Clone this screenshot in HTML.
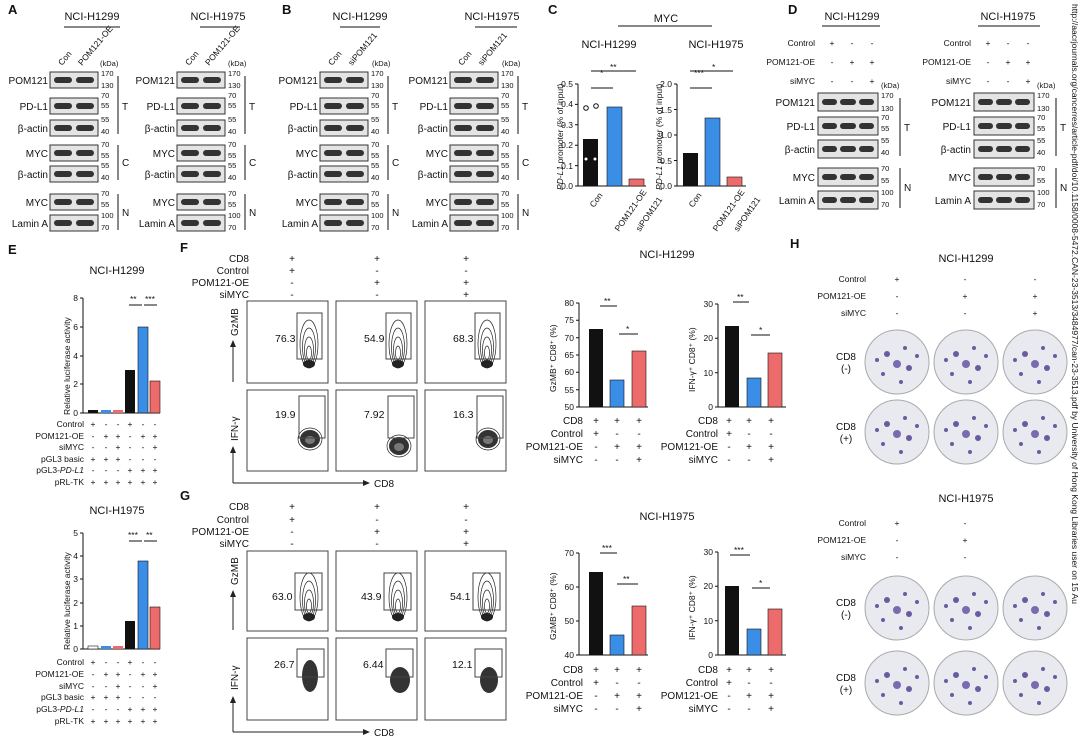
<!DOCTYPE html>
<html><head><meta charset="utf-8"><style>
body{margin:0;background:#fff}
svg{display:block;font-family:"Liberation Sans",Arial,sans-serif}
.t{font-size:10px;fill:#111}
.f{font-size:10.5px;fill:#111}
.s{font-size:8.5px;fill:#111}
.k{font-size:7.5px;fill:#111}
.L{font-size:13px;font-weight:bold;fill:#111}
.h{font-size:11px;fill:#111}
.bl{fill:#e4e4e4;stroke:#333;stroke-width:1}
.bd{fill:#333}
.ax{stroke:#111;stroke-width:1;fill:none}
.fl{fill:#fff;stroke:#444;stroke-width:1}
.ct{fill:none;stroke:#222;stroke-width:0.7}
.dish{fill:#e9e9f0;stroke:#aaa;stroke-width:1}
.B{fill:#3b8ee6;stroke:#111;stroke-width:.6}
.R{fill:#ee6b6b;stroke:#111;stroke-width:.6}
</style></head><body>
<svg width="1080" height="754" viewBox="0 0 1080 754">
<rect width="1080" height="754" fill="#fff"/>
<defs>
<g id="b48">
<rect class="bl" x="0" y="0" width="48" height="16"/><rect class="bd" x="4" y="5" width="18" height="6" rx="3"/><rect class="bd" x="26" y="5" width="18" height="6" rx="3"/>
</g>
<g id="cv">
<ellipse class="ct" cx="0" cy="0" rx="9" ry="24"/><ellipse class="ct" cx="0" cy="3" rx="6.5" ry="19"/><ellipse class="ct" cx="0" cy="6" rx="4.5" ry="13"/><ellipse class="ct" cx="0" cy="9" rx="2.5" ry="7"/><ellipse cx="0" cy="20" rx="6" ry="4" fill="#222"/>
</g>
<g id="cb">
<ellipse cx="0" cy="0" rx="10" ry="9" fill="#333"/><ellipse class="ct" cx="0" cy="0" rx="12" ry="11"/><ellipse cx="0" cy="1" rx="5" ry="4" fill="#777"/>
</g>
<g id="dish">
<circle class="dish" cx="0" cy="0" r="32"/>
<circle cx="-10" cy="-8" r="3" fill="#6a5aa0"/><circle cx="8" cy="-14" r="2" fill="#6a5aa0"/><circle cx="12" cy="6" r="3" fill="#6a5aa0"/><circle cx="-14" cy="12" r="2" fill="#6a5aa0"/><circle cx="0" cy="2" r="4" fill="#7a6ab0"/><circle cx="-20" cy="-2" r="2" fill="#6a5aa0"/><circle cx="20" cy="-6" r="2" fill="#6a5aa0"/><circle cx="4" cy="20" r="2" fill="#6a5aa0"/>
</g>
<g id="col">
<use href="#b48" x="0" y="72"/><use href="#b48" x="0" y="98"/><use href="#b48" x="0" y="120"/><use href="#b48" x="0" y="145"/><use href="#b48" x="0" y="166"/><use href="#b48" x="0" y="194"/><use href="#b48" x="0" y="215"/>
<g class="k"><text x="51" y="76">170</text><text x="51" y="88">130</text><text x="51" y="98">70</text><text x="51" y="108">55</text><text x="51" y="122">55</text><text x="51" y="134">40</text><text x="51" y="147">70</text><text x="51" y="158">55</text><text x="51" y="168">55</text><text x="51" y="180">40</text><text x="51" y="196">70</text><text x="51" y="207">55</text><text x="51" y="218">100</text><text x="51" y="230">70</text></g>
<g class="ax"><line x1="68" y1="76" x2="68" y2="134"/><line x1="68" y1="145" x2="68" y2="180"/><line x1="68" y1="194" x2="68" y2="230"/></g>
<g class="t"><text x="72" y="110">T</text><text x="72" y="166">C</text><text x="72" y="216">N</text></g>
</g>
<g id="b60">
<rect class="bl" x="0" y="0" width="60" height="18"/><rect class="bd" x="4" y="6" width="15" height="6" rx="3"/><rect class="bd" x="22" y="6" width="16" height="6" rx="3"/><rect class="bd" x="41" y="6" width="15" height="6" rx="3"/>
</g>
<g id="dcol">
<use href="#b60" x="0" y="93"/><use href="#b60" x="0" y="117"/><use href="#b60" x="0" y="140"/><use href="#b60" x="0" y="168"/><use href="#b60" x="0" y="191"/>
<g class="k"><text x="63" y="98">170</text><text x="63" y="111">130</text><text x="63" y="120">70</text><text x="63" y="131">55</text><text x="63" y="143">55</text><text x="63" y="155">40</text><text x="63" y="171">70</text><text x="63" y="183">55</text><text x="63" y="195">100</text><text x="63" y="207">70</text><text x="63" y="88">(kDa)</text></g>
<g class="ax"><line x1="82" y1="98" x2="82" y2="156"/><line x1="82" y1="168" x2="82" y2="208"/></g>
<g class="t"><text x="86" y="131">T</text><text x="86" y="191">N</text></g>
</g>
</defs>

<!-- Panel A -->
<text class="L" x="8" y="14">A</text>
<text class="h" x="92" y="20" text-anchor="middle">NCI-H1299</text><text class="h" x="218" y="20" text-anchor="middle">NCI-H1975</text>
<line class="ax" x1="64" y1="27" x2="120" y2="27"/><line class="ax" x1="200" y1="27" x2="240" y2="27"/>
<text class="s" transform="translate(62,66) rotate(-50)">Con</text><text class="s" transform="translate(82,66) rotate(-50)">POM121-OE</text>
<text class="s" transform="translate(189,66) rotate(-50)">Con</text><text class="s" transform="translate(209,66) rotate(-50)">POM121-OE</text>
<text class="k" x="100" y="66">(kDa)</text><text class="k" x="228" y="66">(kDa)</text>
<use href="#col" x="50" y="0"/><use href="#col" x="177" y="0"/>
<g class="t" text-anchor="end">
<text x="48" y="84">POM121</text><text x="48" y="110">PD-L1</text><text x="48" y="132">β-actin</text><text x="48" y="157">MYC</text><text x="48" y="178">β-actin</text><text x="48" y="206">MYC</text><text x="48" y="227">Lamin A</text>
<text x="175" y="84">POM121</text><text x="175" y="110">PD-L1</text><text x="175" y="132">β-actin</text><text x="175" y="157">MYC</text><text x="175" y="178">β-actin</text><text x="175" y="206">MYC</text><text x="175" y="227">Lamin A</text>
</g>

<!-- Panel B -->
<text class="L" x="282" y="14">B</text>
<text class="h" x="360" y="20" text-anchor="middle">NCI-H1299</text><text class="h" x="492" y="20" text-anchor="middle">NCI-H1975</text>
<line class="ax" x1="340" y1="27" x2="380" y2="27"/><line class="ax" x1="475" y1="27" x2="517" y2="27"/>
<text class="s" transform="translate(332,66) rotate(-50)">Con</text><text class="s" transform="translate(352,66) rotate(-50)">siPOM121</text>
<text class="s" transform="translate(462,66) rotate(-50)">Con</text><text class="s" transform="translate(482,66) rotate(-50)">siPOM121</text>
<text class="k" x="372" y="66">(kDa)</text><text class="k" x="502" y="66">(kDa)</text>
<use href="#col" x="320" y="0"/><use href="#col" x="450" y="0"/>
<g class="t" text-anchor="end">
<text x="318" y="84">POM121</text><text x="318" y="110">PD-L1</text><text x="318" y="132">β-actin</text><text x="318" y="157">MYC</text><text x="318" y="178">β-actin</text><text x="318" y="206">MYC</text><text x="318" y="227">Lamin A</text>
<text x="448" y="84">POM121</text><text x="448" y="110">PD-L1</text><text x="448" y="132">β-actin</text><text x="448" y="157">MYC</text><text x="448" y="178">β-actin</text><text x="448" y="206">MYC</text><text x="448" y="227">Lamin A</text>
</g>

<!-- Panel C -->
<text class="L" x="548" y="14">C</text>
<text class="h" x="666" y="22" text-anchor="middle">MYC</text>
<line class="ax" x1="618" y1="26" x2="712" y2="26"/>
<text class="h" x="609" y="48" text-anchor="middle">NCI-H1299</text><text class="h" x="716" y="48" text-anchor="middle">NCI-H1975</text>
<g class="ax"><path d="M578 84 V186 H646"/><path d="M575 186h3M575 165.6h3M575 145.2h3M575 124.8h3M575 104.4h3M575 84h3"/></g>
<g class="s" text-anchor="end"><text x="573" y="189">0.0</text><text x="573" y="169">0.1</text><text x="573" y="148">0.2</text><text x="573" y="128">0.3</text><text x="573" y="107">0.4</text><text x="573" y="87">0.5</text></g>
<rect x="583" y="139" width="15" height="47" fill="#111"/><rect class="B" x="607" y="107" width="15" height="79"/><rect class="R" x="629" y="179" width="15" height="7"/>
<circle cx="586" cy="108" r="2.3" fill="#fff" stroke="#111"/><circle cx="596" cy="106" r="2.3" fill="#fff" stroke="#111"/><circle cx="586" cy="159" r="1.5" fill="#fff"/><circle cx="595" cy="159" r="1.5" fill="#fff"/>
<text class="s" x="600" y="76">*</text><text class="s" x="610" y="70">**</text>
<line class="ax" x1="591" y1="88" x2="613" y2="88"/><line class="ax" x1="591" y1="71" x2="636" y2="71"/>
<text class="s" transform="translate(563,190) rotate(-90)"><tspan font-style="italic">PD-L1</tspan> promoter (% of input)</text>
<text class="s" transform="translate(594,208) rotate(-55)">Con</text><text class="s" transform="translate(619,232) rotate(-55)">POM121-OE</text><text class="s" transform="translate(640,232) rotate(-55)">siPOM121</text>
<g class="ax"><path d="M677 84 V186 H746"/><path d="M674 186h3M674 160.5h3M674 135h3M674 109.5h3M674 84h3"/></g>
<g class="s" text-anchor="end"><text x="672" y="189">0.0</text><text x="672" y="164">0.5</text><text x="672" y="138">1.0</text><text x="672" y="113">1.5</text><text x="672" y="87">2.0</text></g>
<rect x="683" y="153" width="15" height="33" fill="#111"/><rect class="B" x="705" y="118" width="15" height="68"/><rect class="R" x="727" y="177" width="15" height="9"/>
<text class="s" x="694" y="76">***</text><text class="s" x="712" y="70">*</text>
<line class="ax" x1="690" y1="88" x2="712" y2="88"/><line class="ax" x1="690" y1="71" x2="733" y2="71"/>
<text class="s" transform="translate(662,190) rotate(-90)"><tspan font-style="italic">PD-L1</tspan> promoter (% of input)</text>
<text class="s" transform="translate(693,208) rotate(-55)">Con</text><text class="s" transform="translate(717,232) rotate(-55)">POM121-OE</text><text class="s" transform="translate(738,232) rotate(-55)">siPOM121</text>

<!-- Panel D -->
<text class="L" x="788" y="14">D</text>
<text class="h" x="852" y="20" text-anchor="middle">NCI-H1299</text><text class="h" x="1008" y="20" text-anchor="middle">NCI-H1975</text>
<line class="ax" x1="822" y1="26" x2="880" y2="26"/><line class="ax" x1="978" y1="26" x2="1040" y2="26"/>
<g class="s" text-anchor="end"><text x="815" y="46">Control</text><text x="815" y="65">POM121-OE</text><text x="815" y="84">siMYC</text><text x="971" y="46">Control</text><text x="971" y="65">POM121-OE</text><text x="971" y="84">siMYC</text></g>
<g class="s" text-anchor="middle"><text x="832" y="46">+</text><text x="852" y="46">-</text><text x="872" y="46">-</text><text x="832" y="65">-</text><text x="852" y="65">+</text><text x="872" y="65">+</text><text x="832" y="84">-</text><text x="852" y="84">-</text><text x="872" y="84">+</text>
<text x="988" y="46">+</text><text x="1008" y="46">-</text><text x="1028" y="46">-</text><text x="988" y="65">-</text><text x="1008" y="65">+</text><text x="1028" y="65">+</text><text x="988" y="84">-</text><text x="1008" y="84">-</text><text x="1028" y="84">+</text></g>
<use href="#dcol" x="818" y="0"/><use href="#dcol" x="974" y="0"/>
<g class="t" text-anchor="end"><text x="815" y="106">POM121</text><text x="815" y="130">PD-L1</text><text x="815" y="153">β-actin</text><text x="815" y="181">MYC</text><text x="815" y="204">Lamin A</text>
<text x="971" y="106">POM121</text><text x="971" y="130">PD-L1</text><text x="971" y="153">β-actin</text><text x="971" y="181">MYC</text><text x="971" y="204">Lamin A</text></g>

<!-- Panel E -->
<text class="L" x="8" y="254">E</text>
<text class="h" x="117" y="274" text-anchor="middle">NCI-H1299</text>
<g class="ax"><path d="M83 298 V413 H160"/><path d="M80 413h3M80 384h3M80 356h3M80 327h3M80 298h3"/></g>
<g class="s" text-anchor="end"><text x="78" y="416">0</text><text x="78" y="387">2</text><text x="78" y="359">4</text><text x="78" y="330">6</text><text x="78" y="301">8</text></g>
<text class="s" transform="translate(70,415) rotate(-90)">Relative luciferase activity</text>
<rect x="88" y="410" width="10" height="3" fill="#111"/><rect x="101" y="410" width="10" height="3" fill="#3b8ee6"/><rect x="113" y="410" width="10" height="3" fill="#ee6b6b"/>
<rect x="125" y="370" width="10" height="43" fill="#111"/><rect class="B" x="138" y="327" width="10" height="86"/><rect class="R" x="150" y="381" width="10" height="32"/>
<text class="s" x="130" y="302">**</text><text class="s" x="145" y="302">***</text><line class="ax" x1="129" y1="305" x2="142" y2="305"/><line class="ax" x1="144" y1="305" x2="157" y2="305"/>
<g class="s" text-anchor="end"><text x="84" y="427">Control</text><text x="84" y="439">POM121-OE</text><text x="84" y="450">siMYC</text><text x="84" y="462">pGL3 basic</text><text x="84" y="473">pGL3-<tspan font-style="italic">PD-L1</tspan></text><text x="84" y="485">pRL-TK</text></g>
<g class="s" text-anchor="middle">
<text x="93" y="427">+</text><text x="106" y="427">-</text><text x="118" y="427">-</text><text x="130" y="427">+</text><text x="143" y="427">-</text><text x="155" y="427">-</text>
<text x="93" y="439">-</text><text x="106" y="439">+</text><text x="118" y="439">+</text><text x="130" y="439">-</text><text x="143" y="439">+</text><text x="155" y="439">+</text>
<text x="93" y="450">-</text><text x="106" y="450">-</text><text x="118" y="450">+</text><text x="130" y="450">-</text><text x="143" y="450">-</text><text x="155" y="450">+</text>
<text x="93" y="462">+</text><text x="106" y="462">+</text><text x="118" y="462">+</text><text x="130" y="462">-</text><text x="143" y="462">-</text><text x="155" y="462">-</text>
<text x="93" y="473">-</text><text x="106" y="473">-</text><text x="118" y="473">-</text><text x="130" y="473">+</text><text x="143" y="473">+</text><text x="155" y="473">+</text>
<text x="93" y="485">+</text><text x="106" y="485">+</text><text x="118" y="485">+</text><text x="130" y="485">+</text><text x="143" y="485">+</text><text x="155" y="485">+</text></g>
<text class="h" x="117" y="514" text-anchor="middle">NCI-H1975</text>
<g class="ax"><path d="M83 533 V649 H160"/><path d="M80 649h3M80 626h3M80 603h3M80 579h3M80 556h3M80 533h3"/></g>
<g class="s" text-anchor="end"><text x="78" y="652">0</text><text x="78" y="629">1</text><text x="78" y="606">2</text><text x="78" y="582">3</text><text x="78" y="559">4</text><text x="78" y="536">5</text></g>
<text class="s" transform="translate(70,650) rotate(-90)">Relative luciferase activity</text>
<rect x="88" y="646" width="10" height="3" fill="#fff" stroke="#111" stroke-width=".6"/><rect x="101" y="646" width="10" height="3" fill="#3b8ee6"/><rect x="113" y="646" width="10" height="3" fill="#ee6b6b"/>
<rect x="125" y="621" width="10" height="28" fill="#111"/><rect class="B" x="138" y="561" width="10" height="88"/><rect class="R" x="150" y="607" width="10" height="42"/>
<text class="s" x="128" y="538">***</text><text class="s" x="146" y="538">**</text><line class="ax" x1="129" y1="541" x2="142" y2="541"/><line class="ax" x1="144" y1="541" x2="157" y2="541"/>
<g class="s" text-anchor="end"><text x="84" y="665">Control</text><text x="84" y="677">POM121-OE</text><text x="84" y="689">siMYC</text><text x="84" y="700">pGL3 basic</text><text x="84" y="712">pGL3-<tspan font-style="italic">PD-L1</tspan></text><text x="84" y="724">pRL-TK</text></g>
<g class="s" text-anchor="middle">
<text x="93" y="665">+</text><text x="106" y="665">-</text><text x="118" y="665">-</text><text x="130" y="665">+</text><text x="143" y="665">-</text><text x="155" y="665">-</text>
<text x="93" y="677">-</text><text x="106" y="677">+</text><text x="118" y="677">+</text><text x="130" y="677">-</text><text x="143" y="677">+</text><text x="155" y="677">+</text>
<text x="93" y="689">-</text><text x="106" y="689">-</text><text x="118" y="689">+</text><text x="130" y="689">-</text><text x="143" y="689">-</text><text x="155" y="689">+</text>
<text x="93" y="700">+</text><text x="106" y="700">+</text><text x="118" y="700">+</text><text x="130" y="700">-</text><text x="143" y="700">-</text><text x="155" y="700">-</text>
<text x="93" y="712">-</text><text x="106" y="712">-</text><text x="118" y="712">-</text><text x="130" y="712">+</text><text x="143" y="712">+</text><text x="155" y="712">+</text>
<text x="93" y="724">+</text><text x="106" y="724">+</text><text x="118" y="724">+</text><text x="130" y="724">+</text><text x="143" y="724">+</text><text x="155" y="724">+</text></g>

<!-- Panel F -->
<text class="L" x="180" y="252">F</text>
<g class="t" text-anchor="end"><text x="249" y="262">CD8</text><text x="249" y="274">Control</text><text x="249" y="286">POM121-OE</text><text x="249" y="298">siMYC</text></g>
<g class="t" text-anchor="middle"><text x="292" y="262">+</text><text x="292" y="274">+</text><text x="292" y="286">-</text><text x="292" y="298">-</text><text x="377" y="262">+</text><text x="377" y="274">-</text><text x="377" y="286">+</text><text x="377" y="298">-</text><text x="466" y="262">+</text><text x="466" y="274">-</text><text x="466" y="286">+</text><text x="466" y="298">+</text></g>
<rect class="fl" x="247" y="301" width="81" height="82"/><rect class="fl" x="336" y="301" width="81" height="82"/><rect class="fl" x="425" y="301" width="81" height="82"/>
<rect class="fl" x="247" y="390" width="81" height="81"/><rect class="fl" x="336" y="390" width="81" height="81"/><rect class="fl" x="425" y="390" width="81" height="81"/>
<use href="#cv" x="309" y="344"/><use href="#cv" x="398" y="344"/><use href="#cv" x="487" y="344"/>
<use href="#cb" x="310" y="439"/><use href="#cb" x="399" y="446"/><use href="#cb" x="488" y="439"/>
<g fill="none" stroke="#444"><rect x="297" y="313" width="25" height="46"/><rect x="386" y="313" width="25" height="46"/><rect x="475" y="313" width="25" height="46"/><rect x="299" y="396" width="26" height="42"/><rect x="388" y="396" width="26" height="42"/><rect x="477" y="396" width="26" height="42"/></g>
<g class="f"><text x="275" y="342">76.3</text><text x="364" y="342">54.9</text><text x="453" y="342">68.3</text><text x="275" y="418">19.9</text><text x="364" y="418">7.92</text><text x="453" y="418">16.3</text></g>
<text class="t" transform="translate(238,336) rotate(-90)">GzMB</text><text class="t" transform="translate(238,441) rotate(-90)">IFN-γ</text>
<path d="M233 382 V346" stroke="#222"/><path d="M233 340 l-3 7 h6z" fill="#222"/>
<path d="M233 483 H364 M233 483 V452" stroke="#222" fill="none"/><path d="M233 446 l-3 7 h6z M370 483 l-7 -3 v6z" fill="#222"/><text class="t" x="374" y="487">CD8</text>

<text class="h" x="667" y="258" text-anchor="middle">NCI-H1299</text>
<g class="ax"><path d="M579 303 V407 H648"/><path d="M576 303h3M576 320.3h3M576 337.7h3M576 355h3M576 372.3h3M576 389.7h3M576 407h3"/></g>
<g class="s" text-anchor="end"><text x="574" y="410">50</text><text x="574" y="393">55</text><text x="574" y="375">60</text><text x="574" y="358">65</text><text x="574" y="341">70</text><text x="574" y="323">75</text><text x="574" y="306">80</text></g>
<text class="s" transform="translate(556,392) rotate(-90)">GzMB⁺ CD8⁺ (%)</text>
<rect x="589" y="329" width="14" height="78" fill="#111"/><rect class="B" x="610" y="380" width="14" height="27"/><rect class="R" x="632" y="351" width="14" height="56"/>
<text class="s" x="604" y="304">**</text><text class="s" x="626" y="332">*</text><line class="ax" x1="600" y1="306" x2="617" y2="306"/><line class="ax" x1="619" y1="334" x2="638" y2="334"/>
<g class="t" text-anchor="end"><text x="583" y="424">CD8</text><text x="583" y="437">Control</text><text x="583" y="450">POM121-OE</text><text x="583" y="463">siMYC</text></g>
<g class="t" text-anchor="middle"><text x="596" y="424">+</text><text x="617" y="424">+</text><text x="639" y="424">+</text><text x="596" y="437">+</text><text x="617" y="437">-</text><text x="639" y="437">-</text><text x="596" y="450">-</text><text x="617" y="450">+</text><text x="639" y="450">+</text><text x="596" y="463">-</text><text x="617" y="463">-</text><text x="639" y="463">+</text></g>
<g class="ax"><path d="M718 304 V407 H786"/><path d="M715 304h3M715 338.3h3M715 372.7h3M715 407h3"/></g>
<g class="s" text-anchor="end"><text x="713" y="410">0</text><text x="713" y="376">10</text><text x="713" y="341">20</text><text x="713" y="307">30</text></g>
<text class="s" transform="translate(695,392) rotate(-90)">IFN-γ⁺ CD8⁺ (%)</text>
<rect x="725" y="326" width="14" height="81" fill="#111"/><rect class="B" x="747" y="378" width="14" height="29"/><rect class="R" x="768" y="353" width="14" height="54"/>
<text class="s" x="737" y="300">**</text><text class="s" x="759" y="333">*</text><line class="ax" x1="733" y1="302" x2="749" y2="302"/><line class="ax" x1="751" y1="335" x2="770" y2="335"/>
<g class="t" text-anchor="end"><text x="718" y="424">CD8</text><text x="718" y="437">Control</text><text x="718" y="450">POM121-OE</text><text x="718" y="463">siMYC</text></g>
<g class="t" text-anchor="middle"><text x="729" y="424">+</text><text x="749" y="424">+</text><text x="771" y="424">+</text><text x="729" y="437">+</text><text x="749" y="437">-</text><text x="771" y="437">-</text><text x="729" y="450">-</text><text x="749" y="450">+</text><text x="771" y="450">+</text><text x="729" y="463">-</text><text x="749" y="463">-</text><text x="771" y="463">+</text></g>

<!-- Panel G -->
<text class="L" x="180" y="500">G</text>
<g class="t" text-anchor="end"><text x="249" y="510">CD8</text><text x="249" y="523">Control</text><text x="249" y="535">POM121-OE</text><text x="249" y="547">siMYC</text></g>
<g class="t" text-anchor="middle"><text x="292" y="510">+</text><text x="292" y="523">+</text><text x="292" y="535">-</text><text x="292" y="547">-</text><text x="377" y="510">+</text><text x="377" y="523">-</text><text x="377" y="535">+</text><text x="377" y="547">-</text><text x="466" y="510">+</text><text x="466" y="523">-</text><text x="466" y="535">+</text><text x="466" y="547">+</text></g>
<rect class="fl" x="247" y="551" width="81" height="80"/><rect class="fl" x="336" y="551" width="81" height="80"/><rect class="fl" x="425" y="551" width="81" height="80"/>
<rect class="fl" x="247" y="638" width="81" height="82"/><rect class="fl" x="336" y="638" width="81" height="82"/><rect class="fl" x="425" y="638" width="81" height="82"/>
<use href="#cv" x="309" y="597"/><use href="#cv" x="398" y="597"/><use href="#cv" x="487" y="597"/>
<g><ellipse cx="310" cy="676" rx="8" ry="16" fill="#333"/><ellipse cx="400" cy="680" rx="10" ry="13" fill="#333"/><ellipse cx="489" cy="680" rx="9" ry="13" fill="#333"/></g>
<g fill="none" stroke="#444"><rect x="295" y="573" width="27" height="37"/><rect x="384" y="573" width="27" height="37"/><rect x="473" y="573" width="27" height="37"/><rect x="297" y="649" width="27" height="28"/><rect x="386" y="649" width="27" height="28"/><rect x="475" y="649" width="27" height="28"/></g>
<g class="f"><text x="272" y="600">63.0</text><text x="361" y="600">43.9</text><text x="450" y="600">54.1</text><text x="274" y="668">26.7</text><text x="363" y="668">6.44</text><text x="452" y="668">12.1</text></g>
<text class="t" transform="translate(238,585) rotate(-90)">GzMB</text><text class="t" transform="translate(238,690) rotate(-90)">IFN-γ</text>
<path d="M233 630 V596" stroke="#222"/><path d="M233 590 l-3 7 h6z" fill="#222"/>
<path d="M233 732 H364 M233 732 V702" stroke="#222" fill="none"/><path d="M233 696 l-3 7 h6z M370 732 l-7 -3 v6z" fill="#222"/><text class="t" x="374" y="736">CD8</text>

<text class="h" x="667" y="520" text-anchor="middle">NCI-H1975</text>
<g class="ax"><path d="M579 553 V655 H648"/><path d="M576 553h3M576 587h3M576 621h3M576 655h3"/></g>
<g class="s" text-anchor="end"><text x="574" y="658">40</text><text x="574" y="624">50</text><text x="574" y="590">60</text><text x="574" y="556">70</text></g>
<text class="s" transform="translate(556,640) rotate(-90)">GzMB⁺ CD8⁺ (%)</text>
<rect x="589" y="572" width="14" height="83" fill="#111"/><rect class="B" x="610" y="635" width="14" height="20"/><rect class="R" x="632" y="606" width="14" height="49"/>
<text class="s" x="602" y="551">***</text><text class="s" x="623" y="582">**</text><line class="ax" x1="600" y1="553" x2="617" y2="553"/><line class="ax" x1="617" y1="584" x2="638" y2="584"/>
<g class="t" text-anchor="end"><text x="583" y="673">CD8</text><text x="583" y="686">Control</text><text x="583" y="699">POM121-OE</text><text x="583" y="712">siMYC</text></g>
<g class="t" text-anchor="middle"><text x="596" y="673">+</text><text x="617" y="673">+</text><text x="639" y="673">+</text><text x="596" y="686">+</text><text x="617" y="686">-</text><text x="639" y="686">-</text><text x="596" y="699">-</text><text x="617" y="699">+</text><text x="639" y="699">+</text><text x="596" y="712">-</text><text x="617" y="712">-</text><text x="639" y="712">+</text></g>
<g class="ax"><path d="M718 552 V655 H786"/><path d="M715 552h3M715 586.3h3M715 620.7h3M715 655h3"/></g>
<g class="s" text-anchor="end"><text x="713" y="658">0</text><text x="713" y="624">10</text><text x="713" y="589">20</text><text x="713" y="555">30</text></g>
<text class="s" transform="translate(695,640) rotate(-90)">IFN-γ⁺ CD8⁺ (%)</text>
<rect x="725" y="586" width="14" height="69" fill="#111"/><rect class="B" x="747" y="629" width="14" height="26"/><rect class="R" x="768" y="609" width="14" height="46"/>
<text class="s" x="734" y="553">***</text><text class="s" x="759" y="586">*</text><line class="ax" x1="730" y1="555" x2="750" y2="555"/><line class="ax" x1="752" y1="588" x2="770" y2="588"/>
<g class="t" text-anchor="end"><text x="718" y="673">CD8</text><text x="718" y="686">Control</text><text x="718" y="699">POM121-OE</text><text x="718" y="712">siMYC</text></g>
<g class="t" text-anchor="middle"><text x="729" y="673">+</text><text x="749" y="673">+</text><text x="771" y="673">+</text><text x="729" y="686">+</text><text x="749" y="686">-</text><text x="771" y="686">-</text><text x="729" y="699">-</text><text x="749" y="699">+</text><text x="771" y="699">+</text><text x="729" y="712">-</text><text x="749" y="712">-</text><text x="771" y="712">+</text></g>

<!-- Panel H -->
<text class="L" x="790" y="248">H</text>
<text class="h" x="966" y="262" text-anchor="middle">NCI-H1299</text>
<g class="s" text-anchor="end"><text x="866" y="282">Control</text><text x="866" y="299">POM121-OE</text><text x="866" y="316">siMYC</text></g>
<g class="s" text-anchor="middle"><text x="897" y="282">+</text><text x="965" y="282">-</text><text x="1035" y="282">-</text><text x="897" y="299">-</text><text x="965" y="299">+</text><text x="1035" y="299">+</text><text x="897" y="316">-</text><text x="965" y="316">-</text><text x="1035" y="316">+</text></g>
<use href="#dish" x="897" y="362"/><use href="#dish" x="966" y="362"/><use href="#dish" x="1035" y="362"/>
<use href="#dish" x="897" y="432"/><use href="#dish" x="966" y="432"/><use href="#dish" x="1035" y="432"/>
<g class="t" text-anchor="middle"><text x="846" y="360">CD8</text><text x="846" y="372">(-)</text><text x="846" y="430">CD8</text><text x="846" y="442">(+)</text></g>
<text class="h" x="966" y="502" text-anchor="middle">NCI-H1975</text>
<g class="s" text-anchor="end"><text x="866" y="526">Control</text><text x="866" y="543">POM121-OE</text><text x="866" y="560">siMYC</text></g>
<g class="s" text-anchor="middle"><text x="897" y="526">+</text><text x="965" y="526">-</text><text x="897" y="543">-</text><text x="965" y="543">+</text><text x="897" y="560">-</text><text x="965" y="560">-</text></g>
<use href="#dish" x="897" y="608"/><use href="#dish" x="966" y="608"/><use href="#dish" x="1035" y="608"/>
<use href="#dish" x="897" y="683"/><use href="#dish" x="966" y="683"/><use href="#dish" x="1035" y="683"/>
<g class="t" text-anchor="middle"><text x="846" y="606">CD8</text><text x="846" y="618">(-)</text><text x="846" y="681">CD8</text><text x="846" y="693">(+)</text></g>

<text class="s" transform="translate(1072,4) rotate(90)" fill="#333">http://aacrjournals.org/cancerres/article-pdf/doi/10.1158/0008-5472.CAN-23-3513/3484977/can-23-3513.pdf by University of Hong Kong Libraries user on 15 Au</text>
</svg>
</body></html>
